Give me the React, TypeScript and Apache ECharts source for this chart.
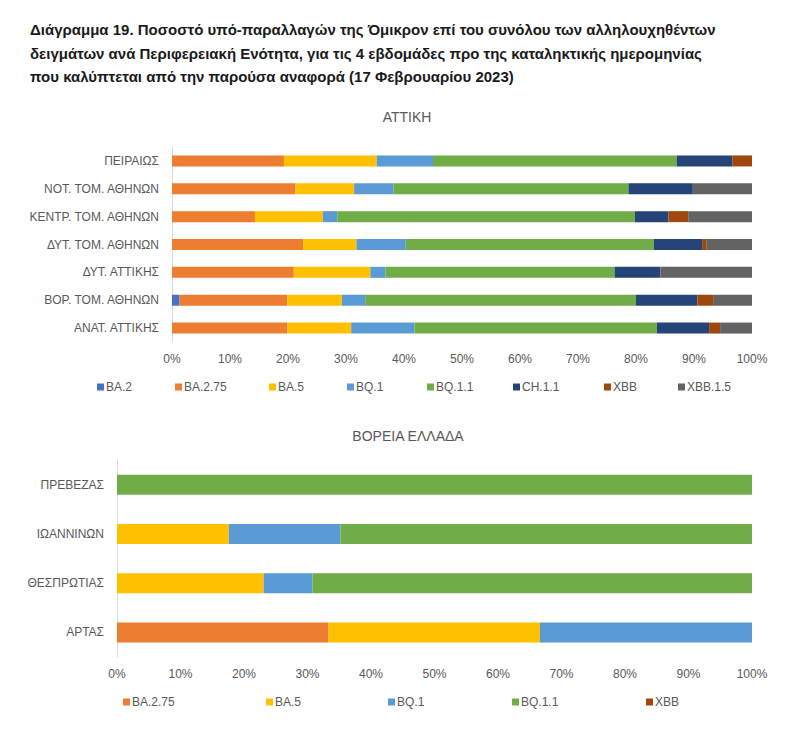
import React, { useEffect, useRef } from "react";
import * as echarts from "echarts";

const titleLines = [
  "Διάγραμμα 19. Ποσοστό υπό-παραλλαγών της Όμικρον επί του συνόλου των αλληλουχηθέντων",
  "δειγμάτων ανά Περιφερειακή Ενότητα, για τις 4 εβδομάδες προ της καταληκτικής ημερομηνίας",
  "που καλύπτεται από την παρούσα αναφορά (17 Φεβρουαρίου 2023)",
];
const atticaTitle = "ΑΤΤΙΚΗ";
const northTitle = "ΒΟΡΕΙΑ ΕΛΛΑΔΑ";

const variants = ["BA.2", "BA.2.75", "BA.5", "BQ.1", "BQ.1.1", "CH.1.1", "XBB", "XBB.1.5"];
const variantColors = ["#4472C4", "#ED7D31", "#FFC000", "#5B9BD5", "#70AD47", "#264478", "#9E480E", "#636363"];

const atticaRegions = [
  "ΠΕΙΡΑΙΩΣ",
  "ΝΟΤ. ΤΟΜ. ΑΘΗΝΩΝ",
  "ΚΕΝΤΡ. ΤΟΜ. ΑΘΗΝΩΝ",
  "ΔΥΤ. ΤΟΜ. ΑΘΗΝΩΝ",
  "ΔΥΤ. ΑΤΤΙΚΗΣ",
  "ΒΟΡ. ΤΟΜ. ΑΘΗΝΩΝ",
  "ΑΝΑΤ. ΑΤΤΙΚΗΣ",
];
const atticaBA2 = [0, 0, 0, 0, 0, 1.3, 0];
const atticaBA275 = [19.3, 21.3, 14.3, 22.6, 21.0, 18.6, 19.9];
const atticaBA5 = [16.0, 10.1, 11.7, 9.2, 13.2, 9.4, 11.0];
const atticaBQ1 = [9.7, 6.8, 2.5, 8.5, 2.6, 4.0, 10.9];
const atticaBQ11 = [42.0, 40.5, 51.3, 42.8, 39.5, 46.7, 41.8];
const atticaCH11 = [9.6, 11.1, 5.8, 8.3, 7.9, 10.6, 9.0];
const atticaXBB = [3.4, 0, 3.4, 0.8, 0, 2.7, 1.9];
const atticaXBB15 = [0, 10.2, 11.0, 7.8, 15.8, 6.7, 5.5];

const northRegions = ["ΠΡΕΒΕΖΑΣ", "ΙΩΑΝΝΙΝΩΝ", "ΘΕΣΠΡΩΤΙΑΣ", "ΑΡΤΑΣ"];
const northVariants = ["BA.2.75", "BA.5", "BQ.1", "BQ.1.1", "XBB"];
const northBA275 = [0, 0, 0, 33.3];
const northBA5 = [0, 17.6, 23.1, 33.3];
const northBQ1 = [0, 17.6, 7.7, 33.4];
const northBQ11 = [100, 64.8, 69.2, 0];
const northXBB = [0, 0, 0, 0];

const atticaData: Record<string, number[]> = {
  "BA.2": atticaBA2,
  "BA.2.75": atticaBA275,
  "BA.5": atticaBA5,
  "BQ.1": atticaBQ1,
  "BQ.1.1": atticaBQ11,
  "CH.1.1": atticaCH11,
  XBB: atticaXBB,
  "XBB.1.5": atticaXBB15,
};
const northData: Record<string, number[]> = {
  "BA.2.75": northBA275,
  "BA.5": northBA5,
  "BQ.1": northBQ1,
  "BQ.1.1": northBQ11,
  XBB: northXBB,
};

const FONT = "'Liberation Sans', Arial, sans-serif";
const GREY = "#595959";

export default function App() {
  const ref = useRef<HTMLDivElement>(null);
  useEffect(() => {
    if (!ref.current) return;
    const chart = echarts.init(ref.current, undefined, { renderer: "svg" });
    const colorOf = (n: string) => variantColors[variants.indexOf(n)];

    const xAxisBase = {
      type: "value" as const,
      min: 0,
      max: 100,
      interval: 10,
      axisLine: { show: false },
      axisTick: { show: false },
      splitLine: { show: false },
      axisLabel: { formatter: "{value}%", color: GREY, fontSize: 12, fontFamily: FONT, margin: 11 },
    };
    const yAxisBase = {
      type: "category" as const,
      inverse: true,
      axisLine: { show: true, lineStyle: { color: "#D9D9D9", width: 1 } },
      axisTick: { show: false },
      axisLabel: { color: GREY, fontSize: 12, fontFamily: FONT, margin: 13 },
    };

    const series: any[] = [];
    variants.forEach((v) => {
      series.push({
        name: v,
        type: "bar",
        stack: "attica",
        xAxisIndex: 0,
        yAxisIndex: 0,
        barWidth: 11,
        itemStyle: { color: colorOf(v) },
        data: atticaData[v],
      });
    });
    northVariants.forEach((v) => {
      series.push({
        name: v,
        type: "bar",
        stack: "north",
        xAxisIndex: 1,
        yAxisIndex: 1,
        barWidth: 20,
        itemStyle: { color: colorOf(v) },
        data: northData[v],
      });
    });

    const topLegendX = [97, 175, 269, 347, 427, 513, 604, 678];
    const bottomLegendX = [123, 266, 388, 512, 646];
    const legendItem = (name: string, left: number, top: number) => ({
      data: [name],
      left,
      top,
      icon: "rect",
      itemWidth: 7,
      itemHeight: 7,
      itemGap: 0,
      padding: 0,
      selectedMode: false,
      textStyle: { color: GREY, fontSize: 12, fontFamily: FONT, padding: [0, 0, 0, -3] },
    });

    chart.setOption({
      animation: false,
      backgroundColor: "#ffffff",
      textStyle: { fontFamily: FONT },
      title: {
        text: titleLines.join("\n"),
        left: 25,
        top: 13,
        textStyle: { fontSize: 15, fontWeight: "bold", color: "#1a1a1a", lineHeight: 23.5, fontFamily: FONT },
      },
      graphic: [
        {
          type: "text",
          x: 407,
          y: 117,
          style: { text: atticaTitle, textAlign: "center", textVerticalAlign: "middle", fontSize: 14, fill: GREY, fontFamily: FONT },
        },
        {
          type: "text",
          x: 408,
          y: 436,
          style: { text: northTitle, textAlign: "center", textVerticalAlign: "middle", fontSize: 14, fill: GREY, fontFamily: FONT },
        },
      ],
      legend: [
        ...variants.map((v, i) => legendItem(v, topLegendX[i], 381)),
        ...northVariants.map((v, i) => legendItem(v, bottomLegendX[i], 696)),
      ],
      grid: [
        { left: 172, right: 48, top: 147, height: 195 },
        { left: 117, right: 48, top: 460, height: 197 },
      ],
      xAxis: [
        { ...xAxisBase, gridIndex: 0 },
        { ...xAxisBase, gridIndex: 1 },
      ],
      yAxis: [
        { ...yAxisBase, gridIndex: 0, data: atticaRegions },
        { ...yAxisBase, gridIndex: 1, data: northRegions },
      ],
      series,
    });
    return () => chart.dispose();
  }, []);
  return (
    <div
      ref={ref}
      style={{ position: "absolute", left: 0, top: 0, width: 800, height: 741, background: "#fff" }}
    />
  );
}
